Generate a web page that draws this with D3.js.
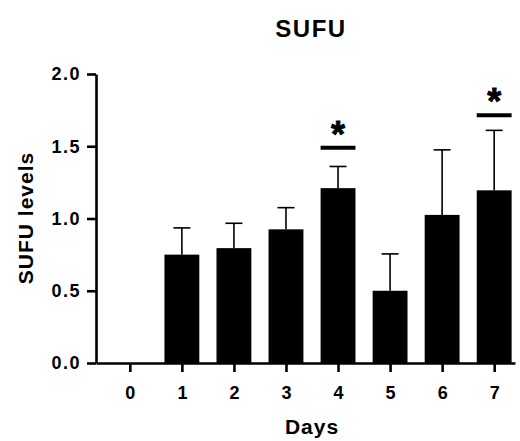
<!DOCTYPE html>
<html>
<head>
<meta charset="utf-8">
<script src="https://cdn.jsdelivr.net/npm/d3@7"></script>
<style>
  body { margin: 0; background: #fff; }
  text { font-family: "Liberation Sans", Arial, sans-serif; font-weight: bold; fill: #000; }
</style>
</head>
<body>
<div class="graph"></div>
<script>
// values
let days = [0, 1, 2, 3, 4, 5, 6, 7];
let means = [0, 0.75, 0.795, 0.925, 1.21, 0.50, 1.025, 1.195];
let errs = [0, 0.185, 0.172, 0.15, 0.15, 0.255, 0.45, 0.415];
let yTicks = [0, 0.5, 1.0, 1.5, 2.0];
let sigDays = [4, 7];
let sigLevels = [1.49, 1.715];

let margin = {top: 74, right: 5, bottom: 78, left: 96},
    width = 520 - margin.left - margin.right,
    height = 441 - margin.top - margin.bottom;

let svg = d3.select(".graph").append("svg")
    .attr("width", 520)
    .attr("height", 441);

let g = svg.append("g")
    .attr("transform", "translate(" + margin.left + "," + margin.top + ")");

let x = d3.scaleLinear()
    .domain([-0.65, 7.4])
    .range([0, width]);

let y = d3.scaleLinear()
    .domain([0, 2])
    .range([height, 0]);

let step = x(1) - x(0);
let barW = step * 0.67;
let capW = 17;

// bars
g.selectAll(".bar")
    .data(days)
    .enter().append("rect")
    .attr("class", "bar")
    .attr("x", d => x(d) - barW / 2)
    .attr("y", (d, i) => y(means[i]))
    .attr("width", barW)
    .attr("height", (d, i) => height - y(means[i]))
    .attr("fill", "#000");

// error bars (upper only)
let eb = g.selectAll(".err")
    .data(days.filter((d, i) => errs[i] > 0))
    .enter().append("g")
    .attr("class", "err")
    .attr("stroke", "#000")
    .attr("stroke-width", 1.6);
eb.append("line")
    .attr("x1", d => x(d)).attr("x2", d => x(d))
    .attr("y1", d => y(means[d]))
    .attr("y2", d => y(means[d] + errs[d]));
eb.append("line")
    .attr("x1", d => x(d) - capW / 2).attr("x2", d => x(d) + capW / 2)
    .attr("y1", d => y(means[d] + errs[d]))
    .attr("y2", d => y(means[d] + errs[d]));

// significance marks
sigDays.forEach(function (d, i) {
    g.append("line")
        .attr("x1", x(d) - barW / 2).attr("x2", x(d) + barW / 2)
        .attr("y1", y(sigLevels[i])).attr("y2", y(sigLevels[i]))
        .attr("stroke", "#000")
        .attr("stroke-width", 4);
    g.append("text")
        .attr("x", x(d))
        .attr("y", y(sigLevels[i]) - 1)
        .attr("text-anchor", "middle")
        .style("font-size", "36px")
        .style("stroke", "#000")
        .style("stroke-width", "0.8px")
        .text("*");
});

// Y axis
let yAxis = g.append("g")
    .call(d3.axisLeft(y)
        .tickValues(yTicks)
        .tickFormat(d3.format(".1f"))
        .tickSize(9)
        .tickSizeOuter(0)
        .tickPadding(6));
yAxis.selectAll("text")
    .style("font-size", "18px")
    .style("letter-spacing", "1.5px");

// X axis
let xAxis = g.append("g")
    .attr("transform", "translate(0," + height + ")")
    .call(d3.axisBottom(x)
        .tickValues(days)
        .tickFormat(d3.format("d"))
        .tickSize(9)
        .tickSizeOuter(0)
        .tickPadding(14));
xAxis.selectAll("text").style("font-size", "18px");

svg.selectAll(".domain, .tick line")
    .attr("stroke", "#000")
    .style("stroke-width", "2.6px");

// titles
svg.append("text")
    .attr("x", 311)
    .attr("y", 37)
    .attr("text-anchor", "middle")
    .style("font-size", "24px")
    .style("letter-spacing", "1.5px")
    .text("SUFU");

svg.append("text")
    .attr("x", 312)
    .attr("y", 434)
    .attr("text-anchor", "middle")
    .style("font-size", "21px")
    .style("letter-spacing", "1px")
    .text("Days");

svg.append("text")
    .attr("transform", "translate(33," + 218 + ") rotate(-90)")
    .attr("text-anchor", "middle")
    .style("font-size", "21px")
    .style("letter-spacing", "1px")
    .text("SUFU levels");
</script>
</body>
</html>
